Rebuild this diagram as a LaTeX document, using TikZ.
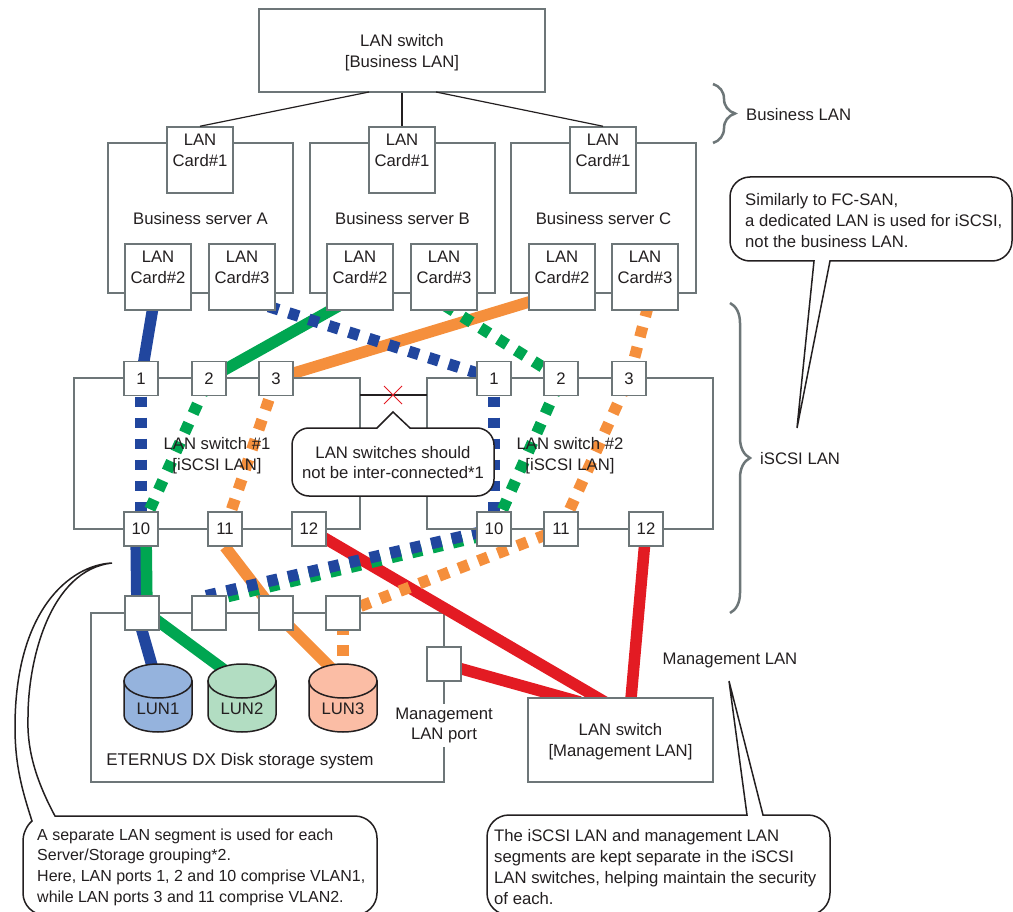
\documentclass[tikz,border=0pt]{standalone}
\usepackage{fontspec}
\setmainfont{Liberation Sans}
\usepackage{xcolor}
\usepackage{tikz}
\usetikzlibrary{backgrounds}
\usetikzlibrary{shapes}
\usetikzlibrary{decorations.pathreplacing}
\definecolor{boxgray}{HTML}{6D7678}
\definecolor{inkdark}{HTML}{231F20}
\definecolor{lanblue}{HTML}{21469E}
\definecolor{langreen}{HTML}{00A651}
\definecolor{lanorange}{HTML}{F58F3C}
\definecolor{lanred}{HTML}{E31B23}
\definecolor{lunblue}{HTML}{95B3DD}
\definecolor{lungreen}{HTML}{B2DDC2}
\definecolor{lunorange}{HTML}{FBBDA5}
\tikzset{
  grayBox/.style={rectangle,draw=boxgray,line width=1.5pt,inner sep=0pt,align=center},
  card/.style={grayBox,fill=white,minimum size=66pt},
  port/.style={grayBox,fill=white,minimum size=34pt},
  lunLine/.style={draw=inkdark,line width=1.5pt},
  plain/.style={inner sep=0pt,align=left},
  balloon/.style={draw=inkdark,line width=1.5pt,fill=white,line join=miter},
  braceLine/.style={draw=boxgray,line width=2.5pt,decorate,decoration={brace,amplitude=#1}},
  dotline/.style={dash pattern=on 10.5pt off 10.5pt,dash phase=#1},
}
\newcommand{\cardtext}[1]{LAN\\Card\##1\\[-8pt]\strut}
\newcommand{\lifttwo}{\rule{0pt}{16pt}}
\newcommand{\liftone}{\rule{0pt}{14pt}}
% x position, fill, node name, text
\newcommand{\lundisk}[4]{
  \draw[lunLine,fill=#2] (#1-34,681) -- (#1-34,715) arc[start angle=180,end angle=360,x radius=34pt,y radius=17pt] -- (#1+34,681) -- cycle;
  \draw[lunLine,fill=#2] (#1,681) ellipse[x radius=34pt,y radius=17pt];
  \node[plain] (#3) at (#1,709) {#4};
}
\begin{document}
\begin{tikzpicture}[x=1pt,y=-1pt,font=\fontsize{16.7}{20.8}\selectfont,text=inkdark]
  \useasboundingbox (0,0) rectangle (1013,912);
  % storage cabinet goes under the red lines
  \begin{scope}[on background layer]
    \node[grayBox,minimum width=353pt,minimum height=169pt] (storage) at (267.5,697.5) {};
  \end{scope}
  % boxes
  \node[grayBox,minimum width=286pt,minimum height=83pt] (switchBiz) at (402,50.5) {\lifttwo LAN switch\\{[Business LAN]}};
  \node[grayBox,minimum width=185pt,minimum height=150pt] (serverA) at (200.5,218) {\liftone Business server A};
  \node[grayBox,minimum width=185pt,minimum height=150pt] (serverB) at (402.5,218) {\liftone Business server B};
  \node[grayBox,minimum width=185pt,minimum height=150pt] (serverC) at (603.5,218) {\liftone Business server C};
  \node[grayBox,minimum width=286pt,minimum height=151pt] (switchOne) at (217,453.5) {\lifttwo LAN switch \#1\\{[iSCSI LAN]}};
  \node[grayBox,minimum width=286pt,minimum height=151pt] (switchTwo) at (570,453.5) {\lifttwo LAN switch \#2\\{[iSCSI LAN]}};
  \node[grayBox,fill=white,minimum width=185pt,minimum height=84pt] (switchMgmt) at (620.5,740) {\lifttwo LAN switch\\{[Management LAN]}};

  \begin{scope}[every node/.style={card}]
    \node (cardAone) at (200,160) {\cardtext{1}};
    \node (cardBone) at (402,160) {\cardtext{1}};
    \node (cardCone) at (603,160) {\cardtext{1}};
    \node (cardAtwo) at (158,277) {\cardtext{2}};
    \node (cardBtwo) at (360,277) {\cardtext{2}};
    \node (cardCtwo) at (562,277) {\cardtext{2}};
    \node (cardAthree) at (242,277) {\cardtext{3}};
    \node (cardBthree) at (444,277) {\cardtext{3}};
    \node (cardCthree) at (645,277) {\cardtext{3}};
  \end{scope}

  \begin{scope}[every node/.style={port}]
    \node (oneA) at (141,378.5) {1};
    \node (oneB) at (209,378.5) {2};
    \node (oneC) at (276,378.5) {3};
    \node (oneJ) at (141,529) {10};
    \node (oneK) at (225,529) {11};
    \node (oneL) at (309,529) {12};
    \node (twoA) at (494,378.5) {1};
    \node (twoB) at (561,378.5) {2};
    \node (twoC) at (629,378.5) {3};
    \node (twoJ) at (494,529) {10};
    \node (twoK) at (561,529) {11};
    \node (twoL) at (646,529) {12};
    \node (storA) at (142,613) {};
    \node (storB) at (209,613) {};
    \node (storC) at (276,613) {};
    \node (storD) at (343,613) {};
    \node (storMgmt) at (444,664) {};
  \end{scope}

  \lundisk{158}{lunblue}{lunOne}{LUN1}
  \lundisk{242}{lungreen}{lunTwo}{LUN2}
  \lundisk{343}{lunorange}{lunThree}{LUN3}
  \node[plain,align=center,fill=white,inner xsep=2pt,inner ysep=4pt] (mgmtPort) at (444,725.5) {Management\\LAN port};
  \node[plain,anchor=west] (bizLabel) at (746,115) {Business LAN};
  \node[plain,anchor=west] (iscsiLabel) at (760,459) {iSCSI LAN};
  \node[plain] (mgmtLabel) at (730,660) {Management LAN};
  \node[plain,align=center,font=\fontsize{17}{20.8}\selectfont] (storLabel) at (240,761) {ETERNUS DX Disk storage system};

  % free ends hidden behind the boxes
  \coordinate (blueStart) at (242,298);
  \coordinate (greenStart) at (360,294);
  \coordinate (orangeStart) at (562,292);
  \coordinate (greenDots) at (444,305);
  \coordinate (orangeDots) at (651,295);
  \coordinate (blueLow) at (205,596);
  \coordinate (greenLow) at (226,597);
  \coordinate (greenHigh) at (494,533);
  \coordinate (blueEnd) at (157.5,685);
  \coordinate (greenEnd) at (242,683);
  \coordinate (orangeEnd) at (335,672);
  \coordinate (redOne) at (610,705);
  \coordinate (redTwo) at (580,702);
  \coordinate (redThree) at (630,710);

  \begin{scope}[on background layer,every edge/.style={draw,line width=11.5pt}]
    \path (cardAtwo.center) edge[lanblue] (oneA.center);
    \path (cardBtwo.center |- greenStart) edge[langreen] (oneB.center);
    \path (orangeStart) edge[lanorange] (oneC.center);
    \path ([xshift=-5pt]oneJ.center) edge[lanblue] ([xshift=-5pt]storA.center);
    \path ([xshift=5pt]oneJ.center) edge[langreen] ([xshift=5pt]storA.center);
    \path ([xshift=-5pt]storA.center) edge[lanblue] (blueEnd);
    \path ([xshift=5pt]storA.center) edge[langreen] (greenEnd);
    \path (oneK.south) edge[lanorange] (storC.center);
    \path (storC.center) edge[lanorange] (orangeEnd);
    \path (oneL.center) edge[lanred] (redOne);
    \path (storMgmt.center) edge[lanred] (redTwo);
    \path (twoL.center) edge[lanred] (redThree);
    % dotted runs
    \path (oneA.center) edge[lanblue,dotline=3pt] (oneJ.center);
    \path (oneB.center) edge[langreen,dotline=14pt] (oneJ.center);
    \path (oneC.center) edge[lanorange,dotline=19.5pt] (oneK.center);
    \path (twoA.center) edge[lanblue,dotline=3pt] (twoJ.center);
    \path (twoB.center) edge[langreen,dotline=14pt] (twoJ.center);
    \path (twoC.center) edge[lanorange,dotline=14pt] (twoK.center);
    \path (twoA.center) edge[lanblue,dotline=5pt] (blueStart);
    \path (twoB.center) edge[langreen,dotline=20.25pt] (greenDots);
    \path (twoC.center) edge[lanorange,dotline=20pt] (orangeDots);
    \path (greenHigh) edge[langreen,dotline=10pt] (greenLow);
    \path (twoJ.center) edge[lanblue,dotline=9pt] (blueLow);
    \path (twoK.center) edge[lanorange,dotline=5.7pt] (storD.center);
    \path (storD.center) edge[lanorange,dotline=10pt] (lunThree.center);
  \end{scope}

  % thin lines
  \begin{scope}[every edge/.style={draw=inkdark,line width=1.2pt}]
    \path (369,92) edge (cardAone.north);
    \path (switchBiz.south) edge (cardBone.north);
    \path (436,92) edge (cardCone.north);
  \end{scope}
  \path[draw=boxgray,line width=1.5pt] (storMgmt.south) -- (mgmtPort.north);

  % inter-switch link
  \coordinate (linkLeft) at (360,395);
  \coordinate (linkRight) at (427,395);
  \draw[inkdark,line width=1.2pt] (linkLeft) -- (linkRight);
  \node[cross out,draw=lanred,line width=1pt,minimum size=17pt,inner sep=0pt] (noLink) at (393,395) {};

  % braces
  \draw[braceLine=22pt] (713,84) -- (713,143);
  \draw[braceLine=20pt] (730,303) -- (730,613);

  % balloons
  \draw[balloon] (410,428) [rounded corners=17pt] -- (494,428) -- (494,496) -- (292,496) -- (292,428) [sharp corners] -- (377,428) -- (393,412) -- cycle;
  \node[plain,align=center] (noteLink) at (393,462.5) {LAN switches should\\not be inter-connected*1};

  \draw[balloon] (830,261) [rounded corners=20pt] -- (1012,261) -- (1012,177) -- (730,177) -- (730,261) [sharp corners] -- (814,261) -- (797,428) -- cycle;
  \node[plain,anchor=west] (noteDedicated) at (745,220.5) {Similarly to FC-SAN,\\a dedicated LAN is used for iSCSI,\\not the business LAN.};

  \draw[balloon] (55,816) .. controls (33,775) and (27,745) .. (28,717) .. controls (28,660) and (50,570) .. (112,563)
     .. controls (70,565) and (15,610) .. (15,727) .. controls (15,765) and (22,790) .. (32,821)
     .. controls (26,826) and (23,835) .. (23,840) [rounded corners=22pt] -- (23,915) -- (377,915) -- (377,816) [sharp corners] -- cycle;
  \node[plain,anchor=west,font=\fontsize{16}{20.6}\selectfont] (noteSegment) at (37,867) {A separate LAN segment is used for each\\Server/Storage grouping*2.\\Here, LAN ports 1, 2 and 10 comprise VLAN1,\\while LAN ports 3 and 11 comprise VLAN2.};

  \draw[balloon] (763,815) [rounded corners=22pt] -- (830,815) -- (830,915) -- (487,915) -- (487,815) [sharp corners] -- (747,815) -- (729,681) -- cycle;
  \node[plain,anchor=west] (noteSecurity) at (494,867) {The iSCSI LAN and management LAN\\segments are kept separate in the iSCSI\\LAN switches, helping maintain the security\\of each.};
\end{tikzpicture}
\end{document}
